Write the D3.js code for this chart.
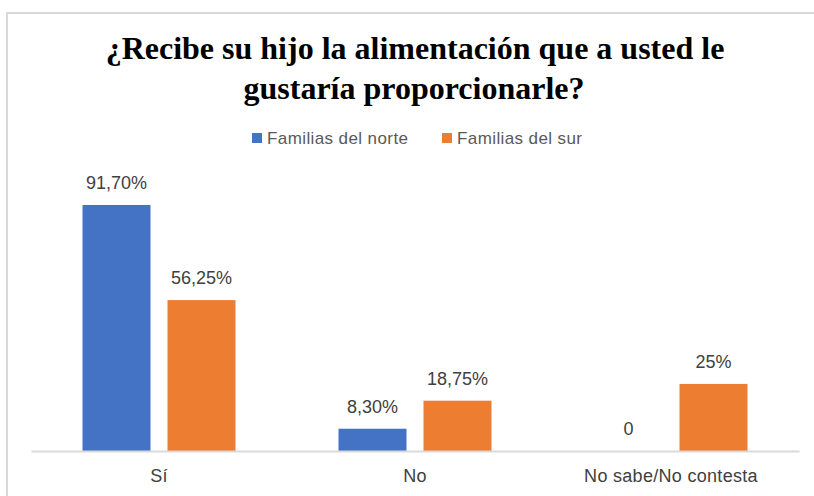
<!DOCTYPE html>
<html>
<head>
<meta charset="utf-8">
<script src="https://cdn.jsdelivr.net/npm/d3@7"></script>
<style>
  body { margin: 0; background: #fff; }
  svg { display: block; }
</style>
</head>
<body>
<div id="chart"></div>
<script>
const categories = ["Sí", "No", "No sabe/No contesta"];
const seriesNames = ["Familias del norte", "Familias del sur"];
const norteValues = [91.7, 8.3, 0];
const surValues = [56.25, 18.75, 25];
const norteLabels = ["91,70%", "8,30%", "0"];
const surLabels = ["56,25%", "18,75%", "25%"];
const colors = ["#4472C4", "#ED7D31"];

const width = 814, height = 496;
const svg = d3.select("#chart").append("svg")
    .attr("width", width)
    .attr("height", height);

// chart frame (cut off at right and bottom)
svg.append("path")
    .attr("d", "M7,496 V13 H814")
    .attr("fill", "none")
    .attr("stroke", "#d9d9d9")
    .attr("stroke-width", 2);

// title
const title = svg.append("text")
    .attr("text-anchor", "middle")
    .attr("font-family", "Liberation Serif, Times New Roman, serif")
    .attr("font-weight", "bold")
    .attr("font-size", 32)
    .attr("fill", "#000");
title.append("tspan").attr("x", 415).attr("y", 59).text("¿Recibe su hijo la alimentación que a usted le");
title.append("tspan").attr("x", 414).attr("y", 99).text("gustaría proporcionarle?");

// legend
const legendX = [252, 442];
seriesNames.forEach((name, i) => {
    const g = svg.append("g").attr("transform", `translate(${legendX[i]},133)`);
    g.append("rect").attr("width", 10).attr("height", 10).attr("fill", colors[i]);
    g.append("text")
        .attr("x", 15).attr("y", 11)
        .attr("font-family", "Liberation Sans, Arial, sans-serif")
        .attr("font-size", 17)
        .attr("letter-spacing", 0.4)
        .attr("fill", "#595959")
        .text(name);
});

const x0 = d3.scaleBand().domain(categories).range([31, 799]).padding(0);
const x1 = d3.scaleBand().domain(seriesNames).range([0, x0.bandwidth()])
    .paddingInner(0.2).paddingOuter(0.606);
const y = d3.scaleLinear().domain([0, 100]).range([451, 451 - 268.3]);

const rows = categories.map((c, i) => ({
    cat: c,
    vals: [
        { s: seriesNames[0], v: norteValues[i], label: norteLabels[i], color: colors[0] },
        { s: seriesNames[1], v: surValues[i], label: surLabels[i], color: colors[1] }
    ]
}));

const groups = svg.selectAll(".grp")
    .data(rows)
    .enter().append("g")
    .attr("class", "grp")
    .attr("transform", d => `translate(${x0(d.cat)},0)`);

groups.selectAll("rect")
    .data(d => d.vals)
    .enter().append("rect")
    .attr("x", d => x1(d.s))
    .attr("y", d => y(d.v))
    .attr("width", x1.bandwidth())
    .attr("height", d => y(0) - y(d.v))
    .attr("fill", d => d.color);

groups.selectAll("text")
    .data(d => d.vals)
    .enter().append("text")
    .attr("x", d => x1(d.s) + x1.bandwidth() / 2)
    .attr("y", d => y(d.v) - 16)
    .attr("text-anchor", "middle")
    .attr("font-family", "Liberation Sans, Arial, sans-serif")
    .attr("font-size", 18)
    .attr("fill", "#404040")
    .text(d => d.label);

// baseline + category labels
const xAxis = svg.append("g")
    .attr("transform", `translate(0,${y(0)})`)
    .call(d3.axisBottom(x0).tickSize(0).tickPadding(18));
xAxis.select(".domain").attr("stroke", "#d9d9d9").attr("stroke-width", 2);
xAxis.selectAll("text")
    .attr("font-family", "Liberation Sans, Arial, sans-serif")
    .attr("font-size", 18)
    .attr("letter-spacing", 0.3)
    .attr("fill", "#404040");
</script>
</body>
</html>
